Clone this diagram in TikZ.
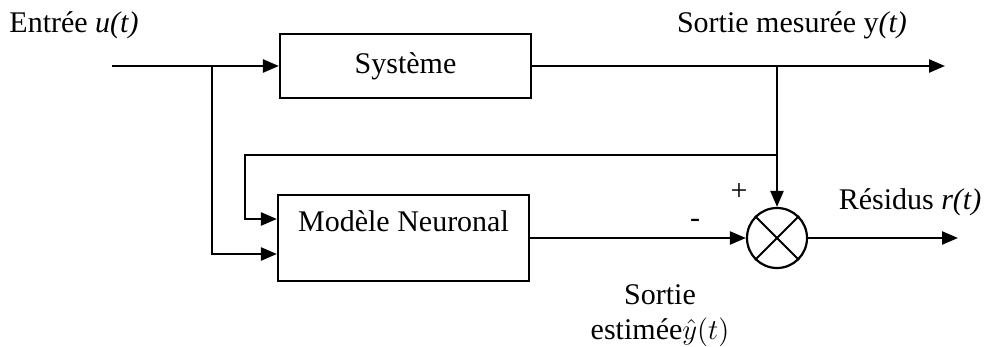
\documentclass[tikz,border=0pt]{standalone}
\usepackage{fontspec}
\setmainfont{Liberation Serif}
\usepackage{amsmath}
\usetikzlibrary{positioning,arrows.meta,calc}

\begin{document}
\begin{tikzpicture}[x=0.5pt,y=-0.5pt,
          every node/.style={font=\fontsize{15}{17.5}\selectfont},
          blk/.style={draw, line width=1.1pt, minimum width=125.5pt, inner sep=0pt},
          ar/.style={-{Triangle[length=8pt,width=6.5pt]},line width=1.2pt},
          ln/.style={line width=1pt}]
        \useasboundingbox (0,0) rectangle (984,347);
        % blocs
        \node[blk, minimum height=32pt] (sys) at (405.5,66) {Système};
        \node[blk, minimum height=43pt] (mod) at (403.5,238) {};
        \node (modtxt) at (403.5,221) {Modèle Neuronal};
        \node[draw, circle, line width=1.1pt, minimum size=30pt, inner sep=0pt] (sum) at (777,238) {};
        \draw[line width=1pt] (sum.north east)--(sum.south west) (sum.north west)--(sum.south east);
        % points
        \coordinate (in) at (112,66);
        \coordinate (out) at (945,66);
        \coordinate (res) at (958,238);
        \coordinate (bin) at (212,66);
        \coordinate (bout) at (777,66);
        \coordinate (fb) at (777,155);
        % textes
        \node (lin) at (74,25) {Entrée \textit{u(t)}};
        \node (lout) at (792,25) {Sortie mesurée y\textit{(t)}};
        \node (lres) at (910,202) {Résidus \textit{r(t)}};
        \node (lplus) at (739,192) {+};
        \node (lmoins) at (695,223) {-};
        \node[align=center] (lest) at (660,316) {Sortie\\estimée$\hat{y}(t)$};
        % liaisons
        \draw[ar] (in)--(sys);
        \draw[ar] (sys)--(out);
        \draw[ar] (bout)--(sum);
        \draw[ar] (mod.east|-sum)--(sum);
        \draw[ar] (sum)--(res);
        \draw[ar] (fb)-|(245,219)--(mod.west|-0,219);
        \draw[ar] (bin)--(212,254)--(mod.west|-0,254);
      \end{tikzpicture}
\end{document}
